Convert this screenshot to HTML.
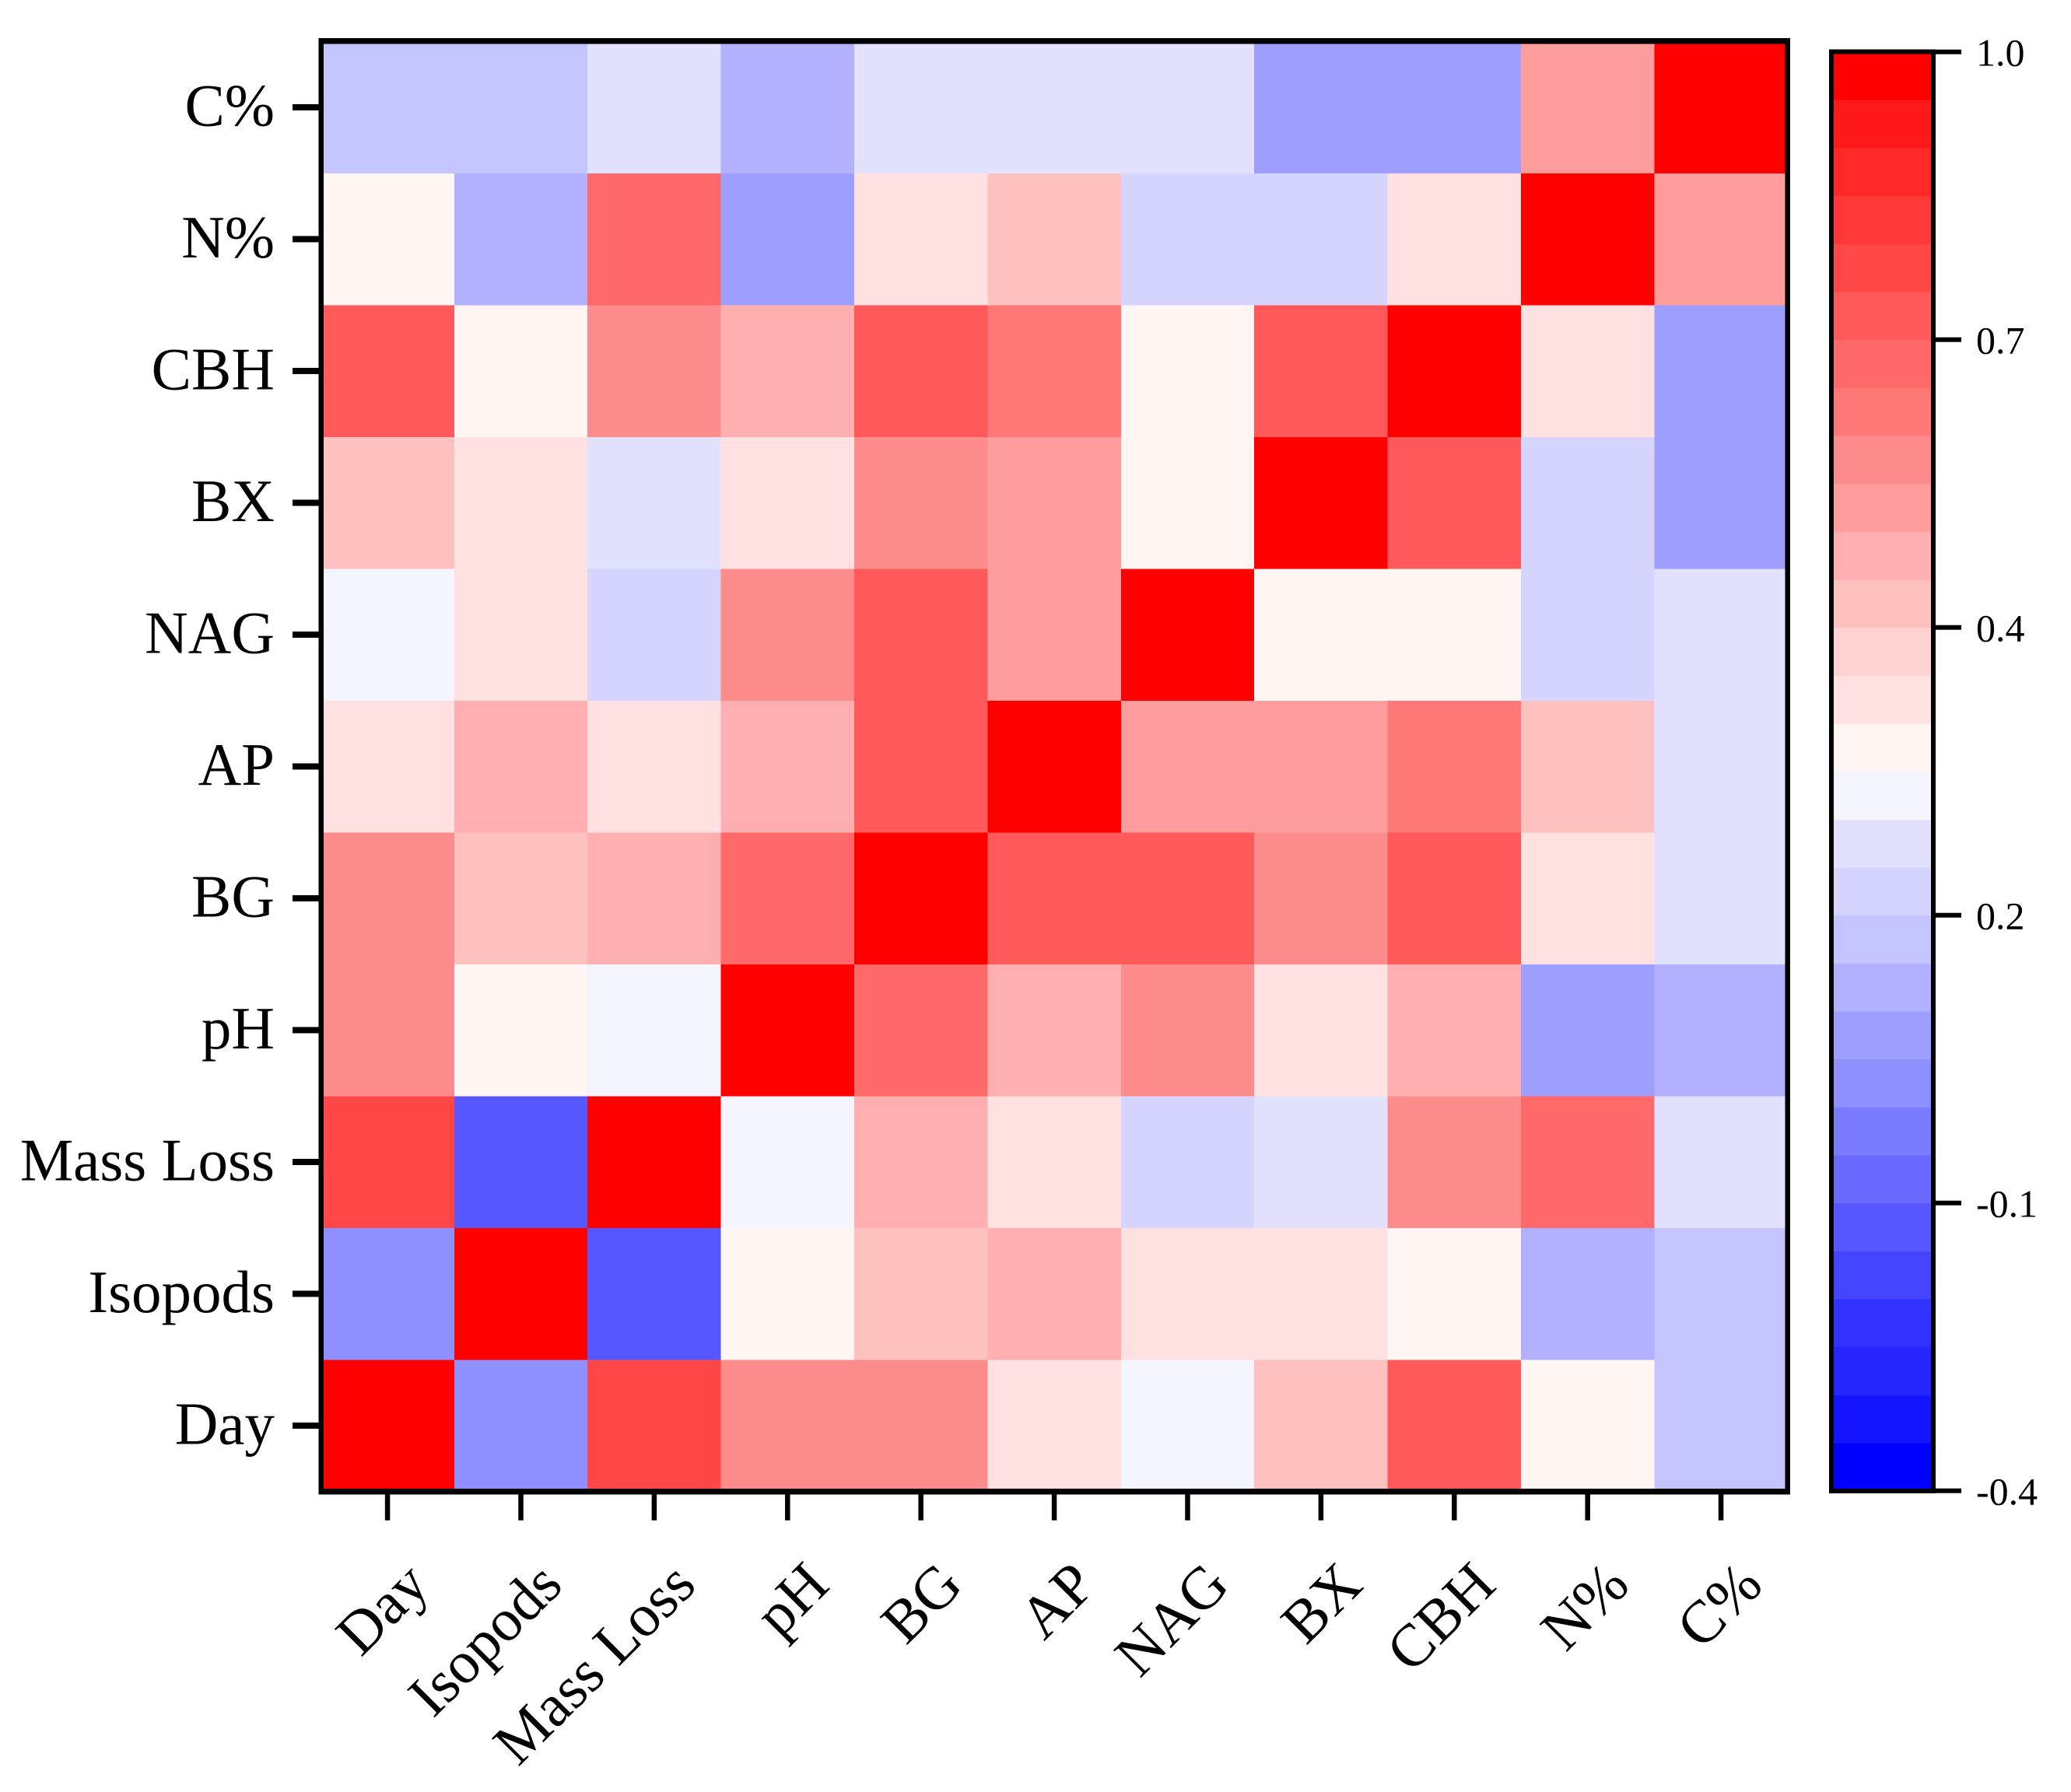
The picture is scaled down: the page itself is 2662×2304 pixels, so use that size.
<!DOCTYPE html>
<html lang="en">
<head>
<meta charset="utf-8">
<title>Correlation heatmap</title>
<style>
html,body{margin:0;padding:0;background:#fff;width:2662px;height:2304px;overflow:hidden}
svg{display:block}
text{font-family:"Liberation Serif",serif;fill:#000}
</style>
</head>
<body>
<svg id="chart" xmlns="http://www.w3.org/2000/svg" width="2662" height="2304" viewBox="0 0 2662 2304"></svg>
<script>
// Categories, listed left-to-right on the x axis and bottom-to-top on the y axis
const categories = ["Day", "Isopods", "Mass Loss", "pH", "BG", "AP", "NAG", "BX", "CBH", "N%", "C%"];

// Correlation values, one array per y-axis category; entries follow the x-axis order
const rowDay      = [1.00, 0.00, 0.79, 0.60, 0.60, 0.37, 0.28, 0.46, 0.74, 0.32, 0.14];
const rowIsopods  = [0.00, 1.00, -0.14, 0.32, 0.46, 0.51, 0.37, 0.37, 0.32, 0.09, 0.14];
const rowMassLoss = [0.79, -0.14, 1.00, 0.28, 0.51, 0.37, 0.18, 0.23, 0.60, 0.70, 0.23];
const rowPH       = [0.60, 0.32, 0.28, 1.00, 0.70, 0.51, 0.60, 0.37, 0.51, 0.04, 0.09];
const rowBG       = [0.60, 0.46, 0.51, 0.70, 1.00, 0.74, 0.74, 0.60, 0.74, 0.37, 0.23];
const rowAP       = [0.37, 0.51, 0.37, 0.51, 0.74, 1.00, 0.56, 0.56, 0.65, 0.46, 0.23];
const rowNAG      = [0.28, 0.37, 0.18, 0.60, 0.74, 0.56, 1.00, 0.32, 0.32, 0.18, 0.23];
const rowBX       = [0.46, 0.37, 0.23, 0.37, 0.60, 0.56, 0.32, 1.00, 0.74, 0.18, 0.04];
const rowCBH      = [0.74, 0.32, 0.60, 0.51, 0.74, 0.65, 0.32, 0.74, 1.00, 0.37, 0.04];
const rowN        = [0.32, 0.09, 0.70, 0.04, 0.37, 0.46, 0.18, 0.18, 0.37, 1.00, 0.56];
const rowC        = [0.14, 0.14, 0.23, 0.09, 0.23, 0.23, 0.23, 0.04, 0.04, 0.56, 1.00];
const matrixRows = [rowDay, rowIsopods, rowMassLoss, rowPH, rowBG, rowAP, rowNAG, rowBX, rowCBH, rowN, rowC];

// Colour bar ticks and their printed (rounded) labels
const colorTicks = [1.0, 0.72, 0.44, 0.16, -0.12, -0.4];
const colorTickLabels = ["1.0", "0.7", "0.4", "0.2", "-0.1", "-0.4"];

// Colour scale domain and its 30 discrete levels, lowest first
const scaleMin = -0.4;
const scaleMax = 1.0;
const palette = ["#0000ff","#1414ff","#2626ff","#3232ff","#4444ff","#5757ff","#6969ff","#7b7bff","#8f8fff","#9e9eff",
                 "#b1b1ff","#c4c4ff","#d5d5ff","#e2e2ff","#f5f5ff","#fff6f3","#ffe1e1","#ffd2d2","#ffc0c0","#ffafaf",
                 "#ff9c9c","#ff8c8c","#ff7878","#ff6969","#ff5959","#ff4747","#ff3737","#ff2828","#ff1919","#ff0000"];

const svg = document.getElementById('chart');
const NS = 'http://www.w3.org/2000/svg';

function make(tag, props, parent) {
  const el = document.createElementNS(NS, tag);
  for (const k in props) el.setAttribute(k, props[k]);
  (parent || svg).appendChild(el);
  return el;
}

// Axis functions
const plot = {x0: 412.4, x1: 2297.8, y0: 53.2, y1: 1917.7};
const bar = {x0: 2354, x1: 2485, y0: 66.7, y1: 1916.7, tickEnd: 2521};
const cellW = (plot.x1 - plot.x0) / categories.length;
const cellH = (plot.y1 - plot.y0) / categories.length;
function xLeft(i) { return plot.x0 + i * cellW; }
function xCenter(i) { return xLeft(i) + cellW / 2; }
function yBottom(i) { return plot.y1 - i * cellH; }
function yCenter(i) { return yBottom(i) - cellH / 2; }
function colorOf(v) {
  const t = (v - scaleMin) / (scaleMax - scaleMin);
  const band = Math.max(0, Math.min(palette.length - 1, Math.floor(t * palette.length)));
  return palette[band];
}
function barY(v) { return bar.y1 - (v - scaleMin) / (scaleMax - scaleMin) * (bar.y1 - bar.y0); }

// Heatmap cells
const cellsGroup = make('g', {'shape-rendering': 'crispEdges'});


matrixRows.forEach((row, r) => {
  row.forEach((v, c) => {
    const cell = make('rect', {
      x: xLeft(c), y: yBottom(r + 1), width: cellW + 0.5, height: cellH + 0.5, fill: colorOf(v)
    }, cellsGroup);
    
    
  });
});

// Plot frame
const frameGroup = make('g', {fill: '#000', 'shape-rendering': 'crispEdges'});


make('rect', {x: 409.5, y: 49, width: 6.5, height: 1872.7}, frameGroup);
make('rect', {x: 2294.5, y: 49, width: 6.5, height: 1872.7}, frameGroup);
make('rect', {x: 409.5, y: 49, width: 1891.5, height: 7.7}, frameGroup);
make('rect', {x: 409.5, y: 1914, width: 1891.5, height: 7.7}, frameGroup);

// Y axis ticks and labels
categories.forEach((name, i) => {
  const tick = make('rect', {x: 376, y: yCenter(i) - 4, width: 34, height: 8, fill: '#000'});
  
  
  const label = make('text', {x: 353, y: yCenter(i) + 23.5, 'text-anchor': 'end', 'font-size': 77});
  label.textContent = name;
  
  
});

// X axis ticks and labels
categories.forEach((name, i) => {
  const tick = make('rect', {x: xCenter(i) - 3.25, y: 1921, width: 6.5, height: 33.7, fill: '#000'});
  
  
  const ax = xCenter(i) + 56.5;
  const ay = 2041;
  const label = make('text', {
    x: ax, y: ay, 'text-anchor': 'end', 'font-size': 77,
    transform: 'rotate(-45 ' + ax + ' ' + ay + ')'
  });
  label.textContent = name;
  
  
});

// Colour bar bands
const barGroup = make('g', {'shape-rendering': 'crispEdges'});


palette.forEach((col, k) => {
  const lo = scaleMin + k * (scaleMax - scaleMin) / palette.length;
  const hi = scaleMin + (k + 1) * (scaleMax - scaleMin) / palette.length;
  const band = make('rect', {
    x: bar.x0, y: barY(hi), width: bar.x1 - bar.x0, height: barY(lo) - barY(hi) + 0.5, fill: col
  }, barGroup);
  
  
});

// Colour bar frame
const barFrame = make('g', {fill: '#000', 'shape-rendering': 'crispEdges'});


make('rect', {x: 2351, y: 63.7, width: 6, height: 1856}, barFrame);
make('rect', {x: 2482, y: 63.7, width: 6, height: 1856}, barFrame);
make('rect', {x: 2351, y: 63.7, width: 137, height: 6}, barFrame);
make('rect', {x: 2351, y: 1913.8, width: 137, height: 6}, barFrame);

// Colour bar ticks and labels
colorTicks.forEach((v, i) => {
  const tick = make('rect', {x: 2487, y: barY(v) - 3, width: bar.tickEnd - 2487, height: 6, fill: '#000'});
  
  
  const label = make('text', {x: 2540, y: barY(v) + 18, 'font-size': 50});
  label.textContent = colorTickLabels[i];
  
  
});
</script>
</body>
</html>
